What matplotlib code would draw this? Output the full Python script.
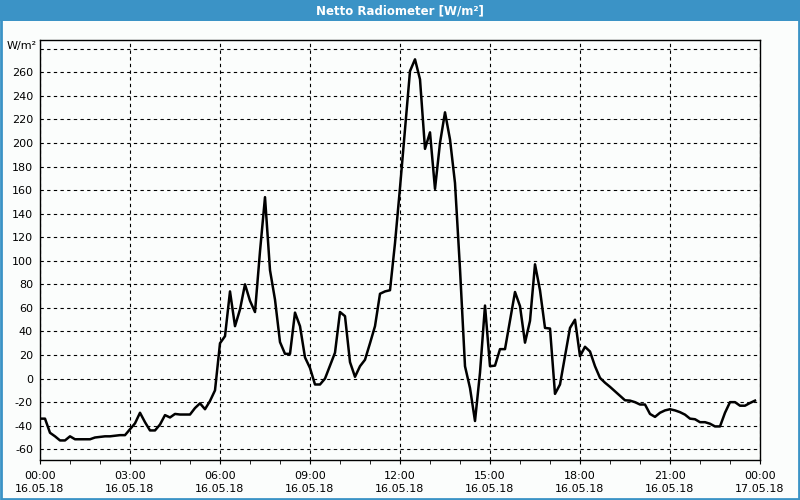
import numpy as np
import matplotlib
matplotlib.use("Agg")
import matplotlib.pyplot as plt
from matplotlib.patches import Rectangle

# Netto radiometer readings, 10 minute steps from 16.05.18 00:00 to 23:50
values = [
    -34, -34, -46, -49, -52.5, -52.5,        # 00:00
    -49, -51.5, -51.5, -51.5, -51.5, -50,     # 01:00
    -49.5, -49, -49, -48.5, -48, -48,         # 02:00
    -43, -38, -29, -37, -44, -44,             # 03:00
    -39, -31, -33, -30, -30.5, -30.5,         # 04:00
    -30.5, -25, -21, -26, -19, -10,           # 05:00
    30, 36, 74, 44.5, 58.7, 80,               # 06:00
    66, 56.5, 108, 154, 92, 67,               # 07:00
    31, 21, 21, 56, 44.5, 18,                 # 08:00
    9, -5, -5, 0, 11, 22,                     # 09:00
    56.5, 53, 14, 1.5, 10.5, 16,              # 10:00
    30, 44.5, 72, 74, 75, 115,                # 11:00
    162, 212, 261, 271, 254, 195,             # 12:00
    209, 161, 200, 226, 203, 166,             # 13:00
    93, 10.5, -8, -36, 5, 62,                 # 14:00
    10.5, 11, 25, 25, 49, 73.5,               # 15:00
    61.5, 30.5, 49, 97, 75, 43,               # 16:00
    42.5, -13, -5, 19, 43, 50,                # 17:00
    19, 27, 23, 10.5, 0.6, -3.5,              # 18:00
    -7, -10.8, -14.5, -18.4, -18.7, -20,      # 19:00
    -22, -22, -30, -32.5, -29, -27,           # 20:00
    -26, -27, -28.5, -30.6, -34, -34.5,       # 21:00
    -37, -37, -38.3, -40.6, -40.6, -29,       # 22:00
    -20, -20, -23, -23, -20.7, -18.7,         # 23:00
]
hours = np.arange(len(values)) / 6.0

tick_hours = [0, 3, 6, 9, 12, 15, 18, 21, 24]
tick_labels = ["00:00\n16.05.18", "03:00\n16.05.18", "06:00\n16.05.18",
               "09:00\n16.05.18", "12:00\n16.05.18", "15:00\n16.05.18",
               "18:00\n16.05.18", "21:00\n16.05.18", "00:00\n17.05.18"]
y_ticks = list(range(-60, 281, 20))

title = "Netto Radiometer [W/m\u00b2]"
unit = "W/m\u00b2"
blue = "#3b93c6"
bg = "#fbfdfc"

fig = plt.figure(figsize=(8, 5), dpi=100, facecolor=bg)
ax = fig.add_axes([0.05, 0.08, 0.90, 0.84], facecolor=bg)

# title band and frame
fig.patches.append(Rectangle((0, 1 - 21 / 500), 1, 21 / 500, transform=fig.transFigure,
                             facecolor=blue, edgecolor="none", zorder=0))
fig.patches.append(Rectangle((0.001, 0.002), 0.998, 0.996, transform=fig.transFigure,
                             facecolor="none", edgecolor=blue, linewidth=2, zorder=0))
fig.text(0.5, 1 - 10.5 / 500, title, ha="center", va="center", color="white",
         fontsize=8.5, fontweight="bold", family="DejaVu Sans")

ax.plot(hours, values, color="black", linewidth=1.8, zorder=3)

ax.set_xlim(0, 24)
ax.set_ylim(-69.1, 287.4)
ax.set_xticks(tick_hours)
ax.set_xticklabels(tick_labels, fontsize=8, linespacing=1.35)
ax.set_xticks(np.arange(0, 25, 1), minor=True)
ax.set_yticks(y_ticks)
ax.set_yticklabels([str(v) if v != 280 else "" for v in y_ticks], fontsize=8)
ax.tick_params(axis="x", which="both", length=3, pad=5, colors="black")
ax.tick_params(axis="y", length=0, pad=5)
ax.text(-0.005, 1 - 6 / 420, unit, transform=ax.transAxes, ha="right", va="center",
        fontsize=8)

ax.grid(True, which="major", color="black", linestyle=(0, (3, 3)), linewidth=0.8)
for s in ax.spines.values():
    s.set_color("black")
    s.set_linewidth(1)

fig.savefig("out.png", dpi=100, facecolor=bg)
